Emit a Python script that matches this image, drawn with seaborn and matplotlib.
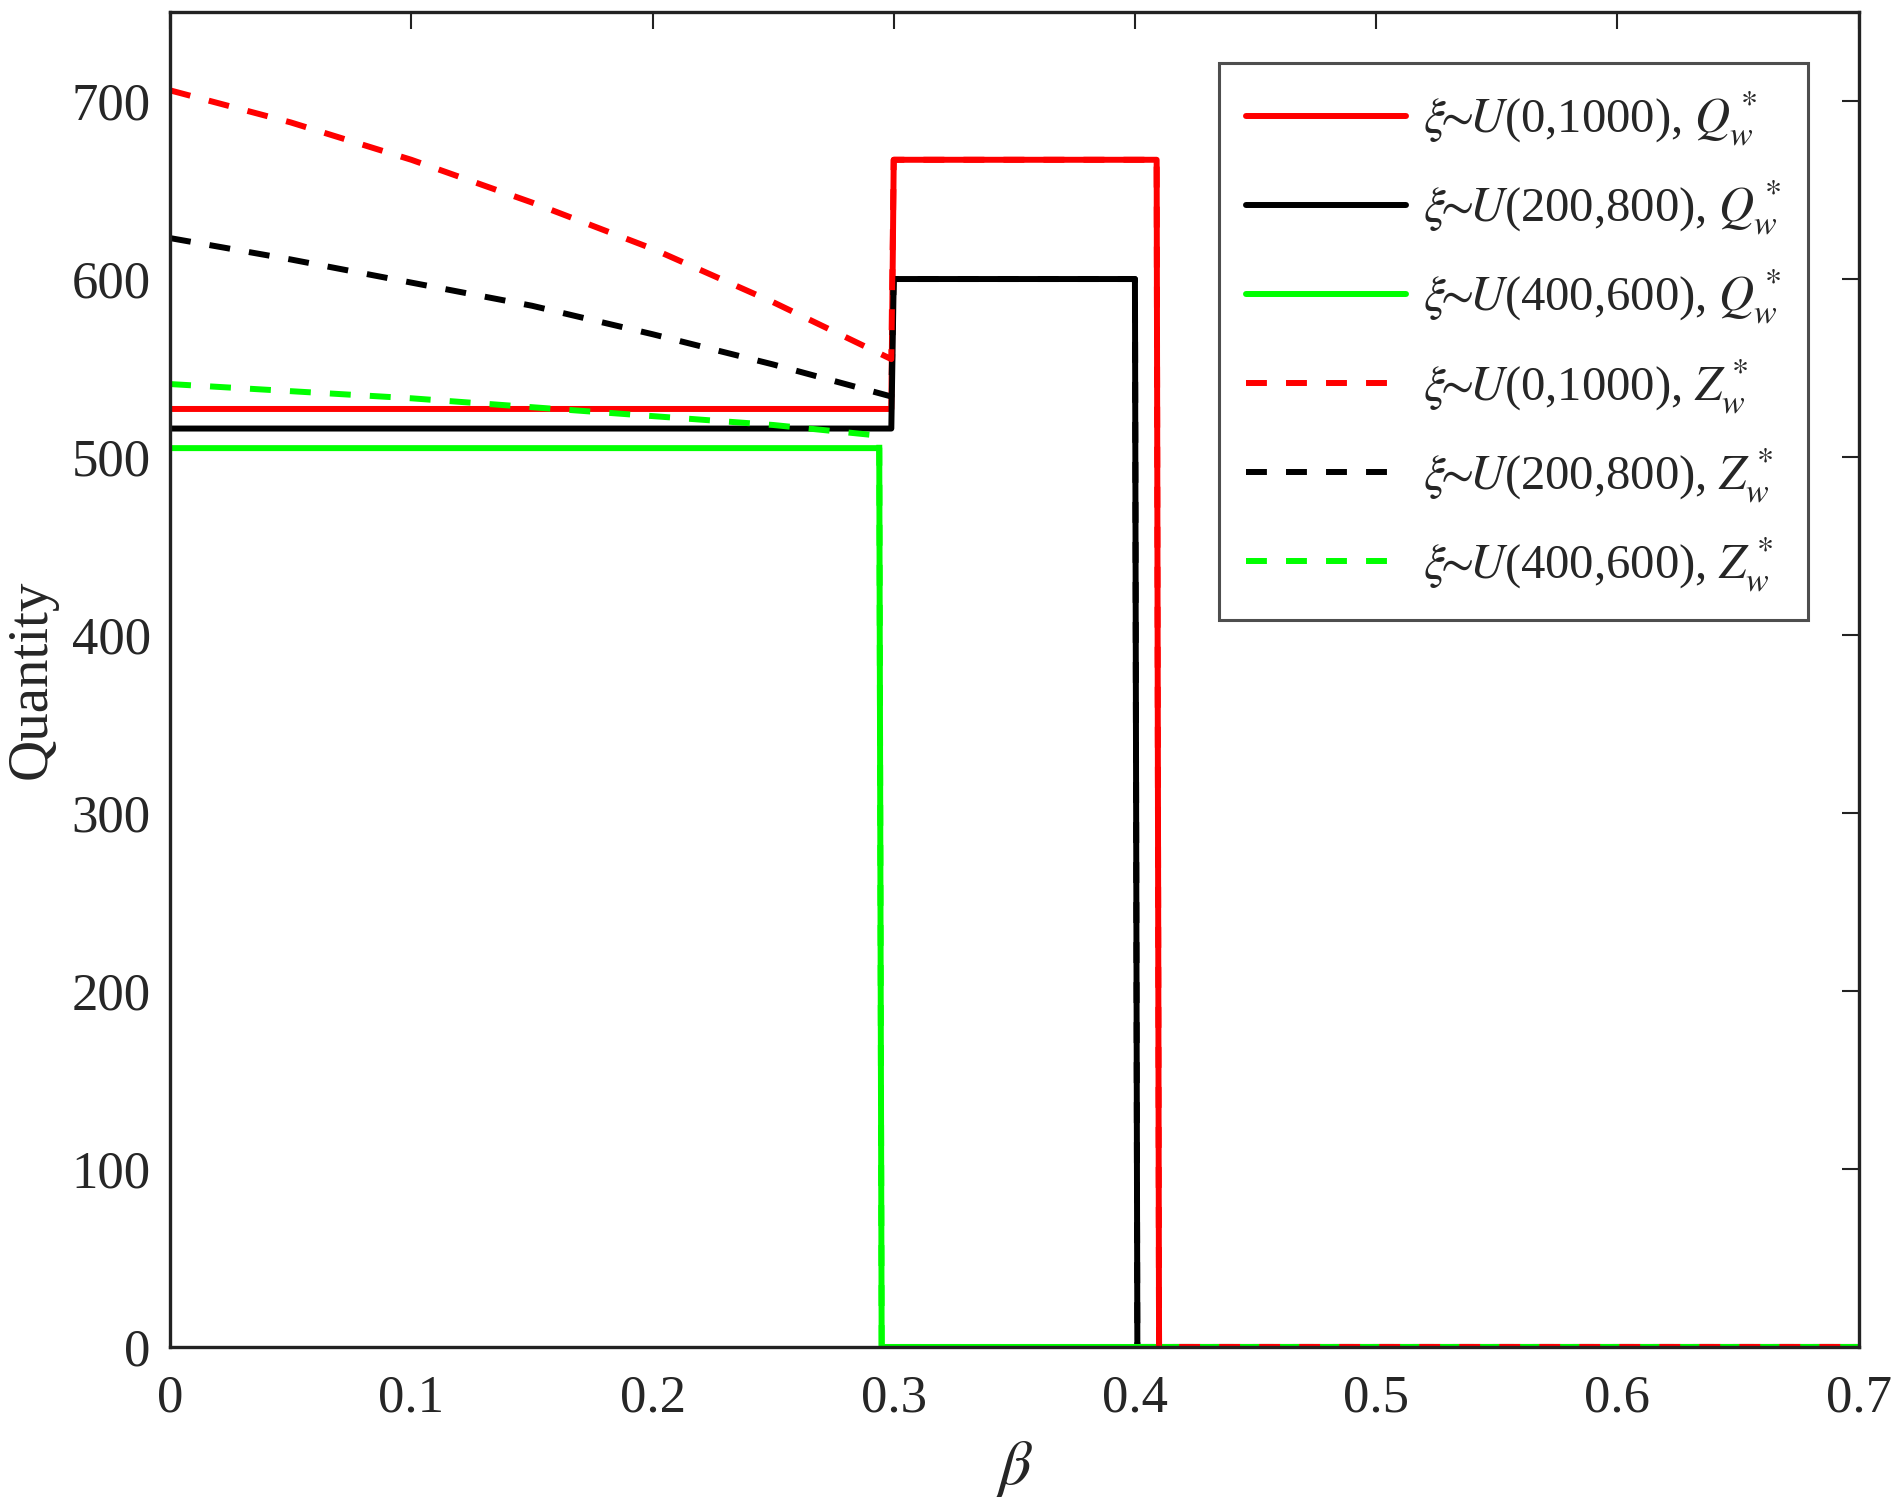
import numpy as np
import pandas as pd
import matplotlib
matplotlib.use("Agg")
import matplotlib.pyplot as plt
import seaborn as sns

# optimal quantities Q_w* (solid) and Z_w* (dashed) against beta
beta_q_a = [0, 0.299, 0.300, 0.409, 0.410, 0.7]
q_a = [527, 527, 667, 667, 0, 0]
beta_q_b = [0, 0.299, 0.300, 0.400, 0.401, 0.7]
q_b = [516, 516, 600, 600, 0, 0]
beta_q_c = [0, 0.294, 0.295, 0.7]
q_c = [505, 505, 0, 0]

beta_z_a = [0, 0.05, 0.10, 0.15, 0.20, 0.25, 0.299, 0.300, 0.409, 0.410, 0.7]
z_a = [706, 688, 667, 643, 617, 587, 555, 667, 667, 0, 0]
beta_z_b = [0, 0.05, 0.10, 0.15, 0.20, 0.25, 0.299, 0.300, 0.400, 0.401, 0.7]
z_b = [623, 611, 598, 585, 569, 552, 534, 600, 600, 0, 0]
beta_z_c = [0, 0.05, 0.10, 0.15, 0.20, 0.25, 0.294, 0.295, 0.7]
z_c = [541, 537, 533, 528, 523, 518, 512, 0, 0]

labels = [r'$\xi\!\!\sim\!\!U$(0,1000), $Q_w^*$',
          r'$\xi\!\!\sim\!\!U$(200,800), $Q_w^*$',
          r'$\xi\!\!\sim\!\!U$(400,600), $Q_w^*$',
          r'$\xi\!\!\sim\!\!U$(0,1000), $Z_w^*$',
          r'$\xi\!\!\sim\!\!U$(200,800), $Z_w^*$',
          r'$\xi\!\!\sim\!\!U$(400,600), $Z_w^*$']

sns.set_style("white")
plt.rcParams['font.family'] = ['Liberation Serif', 'DejaVu Serif']
plt.rcParams['mathtext.fontset'] = 'stix'

fig = plt.figure(figsize=(18.94, 15.06), dpi=100)
ax = fig.add_axes([0.0898, 0.1056, 0.8915, 0.8864])

dash = (0, (3.5, 3.2))
green = '#00ff00'
# (x, y, colour, linestyle, zorder)
series = [(beta_q_a, q_a, 'red', '-', 1.9),
          (beta_q_b, q_b, 'black', '-', 1.95),
          (beta_q_c, q_c, green, '-', 2.1),
          (beta_z_a, z_a, 'red', dash, 2.2),
          (beta_z_b, z_b, 'black', dash, 2.0),
          (beta_z_c, z_c, green, dash, 2.05)]
for (xs, ys, col, ls, zo), lab in zip(series, labels):
    df = pd.DataFrame({'beta': xs, 'qty': ys})
    sns.lineplot(data=df, x='beta', y='qty', ax=ax, color=col, linestyle=ls,
                 linewidth=4.3, label=lab, estimator=None, sort=False, zorder=zo)

ax.set_xlim(0, 0.7)
ax.set_ylim(0, 750)
ax.set_xticks(np.arange(0, 0.71, 0.1))
ax.set_xticklabels(['0', '0.1', '0.2', '0.3', '0.4', '0.5', '0.6', '0.7'])
ax.set_yticks(range(0, 701, 100))
ax.tick_params(direction='in', length=12, width=1.5, labelsize=38, top=True, right=True,
               color='#222222')
ax.tick_params(axis='x', pad=20)
ax.tick_params(axis='y', pad=14)
for s in ax.spines.values():
    s.set_linewidth(2.4)
    s.set_color('#222222')

ax.set_xlabel(r'$\beta$', fontsize=46, labelpad=12)
ax.set_ylabel('Quantity', fontsize=41, labelpad=10)

leg = ax.legend(loc='upper right', bbox_to_anchor=(0.970, 0.962), borderaxespad=0,
                fontsize=35, handlelength=3.3, labelspacing=0.62, frameon=True,
                fancybox=False, borderpad=0.55, handletextpad=0.35)
leg.get_frame().set_edgecolor('#222222')
leg.get_frame().set_linewidth(2.2)

fig.savefig('out.png', dpi=100)
